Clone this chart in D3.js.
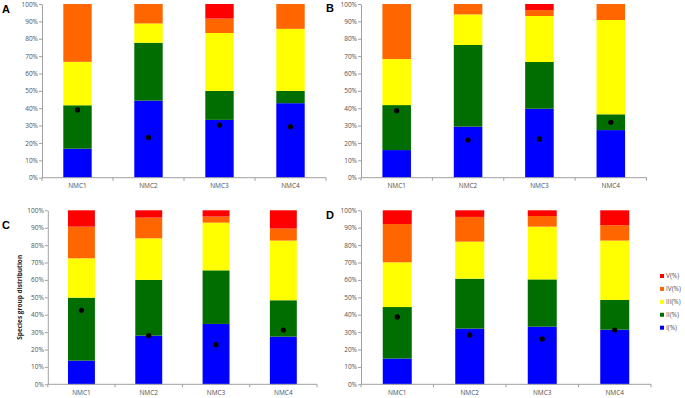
<!DOCTYPE html>
<html><head><meta charset="utf-8">
<script src="https://cdn.jsdelivr.net/npm/d3@7"></script>
<style>body{margin:0;background:#fff}svg{display:block}</style>
</head><body>
<svg id="c" width="685" height="398"></svg>
<script>
const categories = ["NMC1","NMC2","NMC3","NMC4"];
const seriesNames = ["I(%)","II(%)","III(%)","IV(%)","V(%)"];
const seriesColors = ["#0000FF","#006E00","#FFFF00","#FF6600","#FF0000"];
const yTicks = [0,10,20,30,40,50,60,70,80,90,100];

// Panel A
const aI   = [16.7, 44.4, 33.3, 42.9];
const aII  = [25.0, 33.3, 16.7, 7.1];
const aIII = [25.0, 11.1, 33.3, 35.7];
const aIV  = [33.3, 11.2, 8.3, 14.3];
const aV   = [0, 0, 8.4, 0];
const aDot = [39.0, 23.2, 30.3, 29.4];
// Panel B
const bI   = [15.9, 29.4, 39.7, 27.4];
const bII  = [25.9, 47.0, 26.9, 9.1];
const bIII = [26.5, 17.6, 26.5, 54.3];
const bIV  = [31.7, 6.0, 3.4, 9.2];
const bV   = [0, 0, 3.5, 0];
const bDot = [38.6, 21.7, 22.3, 31.9];
// Panel C
const cI   = [13.6, 28.0, 34.7, 27.4];
const cII  = [36.2, 32.0, 30.8, 20.9];
const cIII = [22.6, 23.9, 27.4, 34.3];
const cIV  = [18.2, 11.9, 3.5, 6.9];
const cV   = [9.4, 4.2, 3.6, 10.5];
const cDot = [42.5, 28.0, 22.8, 31.2];
// Panel D
const dI   = [14.8, 32.0, 33.1, 31.4];
const dII  = [29.6, 28.7, 27.2, 17.1];
const dIII = [25.7, 21.3, 30.3, 34.1];
const dIV  = [22.0, 14.2, 6.1, 8.8];
const dV   = [7.9, 3.8, 3.3, 8.6];
const dDot = [38.7, 28.4, 26.1, 31.2];

const panels = [
  {label:"A", series:[aI,aII,aIII,aIV,aV], dots:aDot, x0:42, x1:326, yTop:4, yBot:177.7, lx:2, ly:13},
  {label:"B", series:[bI,bII,bIII,bIV,bV], dots:bDot, x0:361, x1:646.5, yTop:4, yBot:177.7, lx:326, ly:12},
  {label:"C", series:[cI,cII,cIII,cIV,cV], dots:cDot, x0:47.8, x1:317, yTop:210.3, yBot:384.3, lx:2, ly:229, ylabel:"Species group distribution"},
  {label:"D", series:[dI,dII,dIII,dIV,dV], dots:dDot, x0:361, x1:651, yTop:210.3, yBot:384.3, lx:326, ly:219}
];

const svg = d3.select("#c");
const font = "'Open Sans', 'DejaVu Sans', sans-serif";
const axisColor = "#a0a0a0";
const textColor = "#505050";

panels.forEach(p => {
  const g = svg.append("g");
  const x = d3.scaleBand().domain(categories).range([p.x0, p.x1]).paddingInner(0.6).paddingOuter(0.3);
  const y = d3.scaleLinear().domain([0,100]).range([p.yBot, p.yTop]);

  // stacked data
  const rows = categories.map((c,i) => {
    const r = {cat:c};
    seriesNames.forEach((s,k) => r[s] = p.series[k][i]);
    return r;
  });
  const stack = d3.stack().keys(seriesNames)(rows);
  stack.forEach((layer,k) => {
    g.append("g").selectAll("rect").data(layer).join("rect")
      .attr("x", d => x(d.data.cat))
      .attr("width", x.bandwidth())
      .attr("y", d => y(d[1]))
      .attr("height", d => Math.max(0, y(d[0]) - y(d[1])))
      .attr("fill", seriesColors[k]);
  });

  // dots
  g.append("g").selectAll("circle").data(p.dots).join("circle")
    .attr("cx", (d,i) => x(categories[i]) + x.bandwidth()/2)
    .attr("cy", d => y(d))
    .attr("r", 2.6)
    .attr("fill", "#000");

  // y axis
  const ya = g.append("g").attr("transform", `translate(${p.x0},0)`)
    .call(d3.axisLeft(y).tickValues(yTicks).tickFormat(d => d + "%").tickSize(3).tickSizeOuter(0));
  ya.select(".domain").attr("stroke", axisColor);
  ya.selectAll(".tick line").attr("stroke", axisColor);
  ya.selectAll(".tick text").attr("fill", textColor).attr("font-family", font).attr("font-size", 6.5).attr("x", -4);

  // x axis
  const xa = g.append("g").attr("transform", `translate(0,${p.yBot})`)
    .call(d3.axisBottom(x).tickSize(0).tickSizeOuter(0));
  xa.select(".domain").attr("stroke", axisColor).attr("d", `M${p.x0},0H${p.x1}`);
  xa.selectAll(".tick text").attr("fill", textColor).attr("font-family", font).attr("font-size", 6.5).attr("dy", "0.71em").attr("y", 6);
  const step = x.step();
  const bounds = d3.range(categories.length + 1).map(i => p.x0 + i * step);
  g.append("g").selectAll("line").data(bounds).join("line")
    .attr("x1", d => d).attr("x2", d => d)
    .attr("y1", p.yBot).attr("y2", p.yBot + 3)
    .attr("stroke", axisColor);

  // panel label
  svg.append("text").attr("x", p.lx).attr("y", p.ly).text(p.label)
    .attr("font-family", "'Liberation Sans', Arial, sans-serif").attr("font-weight", "bold")
    .attr("font-size", 11).attr("fill", "#000");

  if (p.ylabel) {
    svg.append("text").attr("transform", `translate(22,${(p.yTop+p.yBot)/2}) rotate(-90)`)
      .attr("text-anchor", "middle").text(p.ylabel)
      .attr("font-family", font).attr("font-weight", "bold").attr("font-size", 6.5).attr("fill", "#222");
  }
});

// legend
const legendOrder = [4,3,2,1,0];
const legendY = d3.scalePoint().domain(legendOrder).range([276, 327.7]);
const lg = svg.append("g");
legendOrder.forEach(k => {
  lg.append("rect").attr("x", 660).attr("y", legendY(k) - 2).attr("width", 4).attr("height", 4).attr("fill", seriesColors[k]);
  lg.append("text").attr("x", 666).attr("y", legendY(k)).attr("dy", "0.35em").text(seriesNames[k])
    .attr("font-family", font).attr("font-size", 6.5).attr("fill", textColor);
});
</script>
</body></html>
